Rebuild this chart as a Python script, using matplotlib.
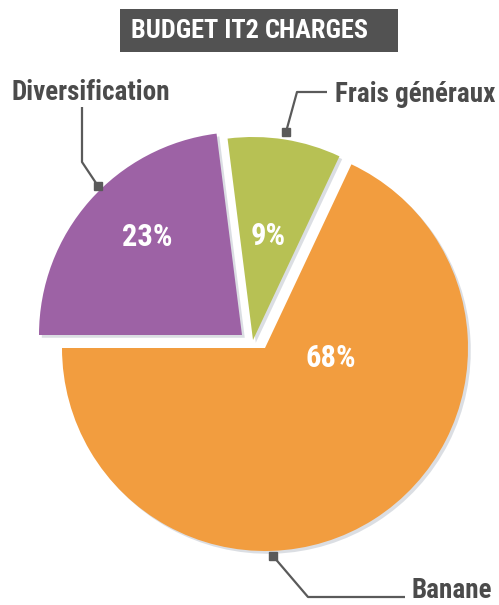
import matplotlib
matplotlib.use("Agg")
import matplotlib.pyplot as plt
import matplotlib.patheffects as pe
import numpy as np

# Budget IT2 charges breakdown (percent)
categories = ["Banane", "Frais généraux", "Diversification"]
values = [68, 9, 23]
pct_labels = ["68%", "9%", "23%"]
colors = ["#f29d3f", "#b7c154", "#9d62a5"]

W, H = 499, 605
FONT = ["Roboto Condensed", "Liberation Sans Narrow", "DejaVu Sans"]
TXT = "#4b4b4b"
LINE = "#5a5a5a"

fig = plt.figure(figsize=(W / 100, H / 100), dpi=100)
ax = fig.add_axes([0, 0, 1, 1])

# pixel-style coordinates: x to the right, y measured from the top
def Y(y):
    return H - y

cx, cy, R = 265, 348, 203
# per-slice displacement of the wedge apex (pixels, x right / y up)
shifts = [(0, 0), (-12, 8), (-23, 13)]
# percentage label placement relative to each wedge apex: (angle deg, fraction of R)
label_pos = [(-8.7, 0.33), (81.8, 0.52), (134.0, 0.67)]

wedges, _ = ax.pie(values, colors=colors, startangle=-180, counterclock=True,
                   radius=R, center=(cx, Y(cy)),
                   wedgeprops=dict(edgecolor="none"))
ax.set_xlim(0, W)
ax.set_ylim(0, H)
ax.set_aspect("auto")
ax.axis("off")

for w, (dx, dy), (ang, fr), lab in zip(wedges, shifts, label_pos, pct_labels):
    x0, y0 = cx + dx, Y(cy) + dy
    w.set_center((x0, y0))
    w.set_path_effects([pe.SimplePatchShadow(offset=(2, -2), shadow_rgbFace="#9aa3b0", alpha=0.35),
                        pe.Normal()])
    a = np.deg2rad(ang)
    ax.text(x0 + fr * R * np.cos(a), y0 + fr * R * np.sin(a), lab,
            color="white", fontsize=22, fontweight="bold", family=FONT,
            fontstretch="condensed", ha="center", va="center")

# title banner
ax.add_patch(plt.Rectangle((120, Y(52)), 278, 43, facecolor="#525252", edgecolor="none"))
t1 = ax.text(131, Y(31), "BUDGET IT2 ", color="white", fontsize=19, fontweight="bold",
             family=FONT, fontstretch="condensed", ha="left", va="center")
fig.canvas.draw()
bb = t1.get_window_extent()
x_end = ax.transData.inverted().transform((bb.x1, bb.y0))[0]
ax.text(x_end, Y(31), "CHARGES", color="white", fontsize=19, fontweight="heavy",
        family=FONT, fontstretch="condensed", ha="left", va="center")

# category callouts with leader lines
def leader(pts, end):
    xs = [p[0] for p in pts]
    ys = [Y(p[1]) for p in pts]
    ax.plot(xs, ys, color=LINE, lw=1.6, solid_capstyle="butt", zorder=5)
    ax.plot([end[0]], [Y(end[1])], marker="s", ms=6, color=LINE, zorder=6)

lab_kw = dict(color=TXT, fontsize=19.5, fontweight="bold", family=FONT,
              fontstretch="condensed")
ax.text(12, Y(93), categories[2], ha="left", va="center", **lab_kw)
leader([(82, 107), (82, 162), (98, 186)], (98, 186))

ax.text(495, Y(94), categories[1], ha="right", va="center", **lab_kw)
leader([(327, 92), (297, 92), (286, 132)], (286, 132))

ax.text(492, Y(591), categories[0], ha="right", va="center", **lab_kw)
leader([(273, 556), (308, 597), (405, 597)], (273, 556))

fig.savefig("out.png", dpi=100, facecolor="white")
